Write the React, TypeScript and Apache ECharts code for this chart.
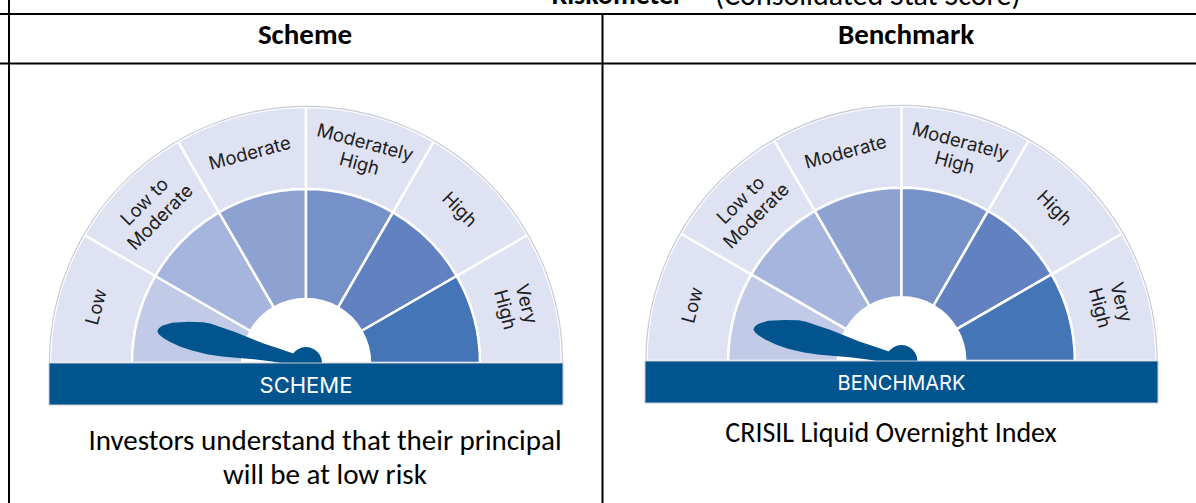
import React, { useEffect, useRef } from 'react';
import * as echarts from 'echarts';

// ---- data ----
const riskCategories = ['Low', 'Low to\nModerate', 'Moderate', 'Moderately\nHigh', 'High', 'Very\nHigh'];
const segmentWeights = [1, 1, 1, 1, 1, 1];
const innerColors = ['#c1cae6', '#a6b5dd', '#8ea2d2', '#7690c8', '#6181c0', '#4475b6'];
const outerColor = '#dfe2f2';
const riskValues = [0.4, 0.4]; // needle position on the 0..6 scale (scheme, benchmark)
const panelTitles = ['Scheme', 'Benchmark'];
const bandLabels = ['SCHEME', 'BENCHMARK'];
const captions = ['Investors understand that their principal\nwill be at low risk', 'CRISIL Liquid Overnight Index'];
const titleParts = ['Riskometer', '(Consolidated Stat Score)'];

const NAVY = '#02548f';
const TABLE_FONT = "Carlito, 'Liberation Sans Narrow', 'Open Sans', sans-serif";
const DIAL_FONT = "Inter, 'Noto Sans', sans-serif";

// needle outline: tip at top (y=0), pivot at bottom (y=100); x=100 is the upper side of the blade
const NEEDLE_PATH =
  'path://M0,100 L0.01,100 Z M100,100 L99.99,100 Z ' +
  'M50,0 L58,0.4 L67,2.3 L80.5,8.3 L92,19 L98.5,28 L99,33 L96,39 L91,50 L84,60 L77,70 L72.5,80 L68,90 L63,100 ' +
  'L39.5,100 L37,88 L35,78 L31,66 L26,56 L21,45 L18.5,35 L19.5,25 L23,17 L30.5,9 L37,4.5 L43,1.5 Z';

type Dial = { cx: number; cy: number; R: number; value: number };
const dials: Dial[] = [
  { cx: 306, cy: 363, R: 256, value: riskValues[0] },
  { cx: 901.5, cy: 361, R: 255, value: riskValues[1] },
];

function dialSeries(d: Dial) {
  const k = d.R / 256;
  const hidden = {
    value: segmentWeights.reduce((a, b) => a + b, 0),
    name: '',
    itemStyle: { color: 'transparent', borderWidth: 0 },
    label: { show: false },
  };
  const outer = {
    type: 'pie',
    silent: true,
    center: [d.cx, d.cy],
    radius: [174 * k, d.R],
    startAngle: 180,
    avoidLabelOverlap: false,
    labelLine: { show: false },
    itemStyle: { borderColor: '#ffffff', borderWidth: 2.5 },
    label: {
      show: true,
      position: 'inside',
      rotate: 'tangential',
      formatter: '{b}',
      fontFamily: DIAL_FONT,
      fontSize: 18.5,
      lineHeight: 22,
      color: '#1e1e1e',
    },
    data: [
      ...riskCategories.map((n, i) => ({ name: n, value: segmentWeights[i], itemStyle: { color: outerColor } })),
      hidden,
    ],
    z: 1,
  };
  const inner = {
    type: 'pie',
    silent: true,
    center: [d.cx, d.cy],
    radius: [64 * k, 174 * k],
    startAngle: 180,
    labelLine: { show: false },
    label: { show: false },
    itemStyle: { borderColor: '#ffffff', borderWidth: 2.5 },
    data: [
      ...riskCategories.map((n, i) => ({ name: n, value: segmentWeights[i], itemStyle: { color: innerColors[i] } })),
      hidden,
    ],
    z: 1,
  };
  const rim = {
    type: 'pie',
    silent: true,
    center: [d.cx, d.cy],
    radius: [d.R, d.R + 1.2],
    startAngle: 180,
    label: { show: false },
    labelLine: { show: false },
    data: [
      { name: 'rim', value: 1, itemStyle: { color: '#c9ccd6' } },
      { name: '', value: 1, itemStyle: { color: 'transparent' } },
    ],
    z: 1,
  };
  const gauge = {
    type: 'gauge',
    silent: true,
    center: [d.cx, d.cy],
    radius: 174 * k,
    startAngle: 180,
    endAngle: 0,
    min: 0,
    max: segmentWeights.length,
    splitNumber: segmentWeights.length,
    axisLine: { show: false },
    splitLine: { show: false },
    axisTick: { show: false },
    axisLabel: { show: false },
    pointer: {
      show: true,
      icon: NEEDLE_PATH,
      length: 152 * k,
      width: 38 * k,
      keepAspect: false,
      itemStyle: { color: NAVY },
    },
    anchor: { show: true, showAbove: true, size: 32 * k, itemStyle: { color: NAVY } },
    title: { show: false },
    detail: { show: false },
    data: [{ value: d.value }],
    z: 3,
  };
  return [outer, inner, rim, gauge];
}

export default function App() {
  const ref = useRef<HTMLDivElement>(null);
  useEffect(() => {
    if (!ref.current) return;
    const chart = echarts.init(ref.current, undefined, { renderer: 'svg' });
    const lineStyle = { stroke: '#000', lineWidth: 2 };
    const graphic: any[] = [
      // table rules
      { type: 'line', shape: { x1: 0, y1: 14, x2: 1196, y2: 14 }, style: lineStyle, z: 50 },
      { type: 'line', shape: { x1: 0, y1: 63.5, x2: 1196, y2: 63.5 }, style: lineStyle, z: 50 },
      { type: 'line', shape: { x1: 9, y1: 0, x2: 9, y2: 503 }, style: lineStyle, z: 50 },
      { type: 'line', shape: { x1: 602.5, y1: 14, x2: 602.5, y2: 503 }, style: lineStyle, z: 50 },
      // clipped title row text (only its lower part shows above the first rule)
      {
        type: 'text', x: 683, y: -6, z: 50,
        style: { text: titleParts[0], align: 'right', verticalAlign: 'middle', font: `bold 28px ${TABLE_FONT}`, fill: '#000' },
      },
      {
        type: 'text', x: 715, y: -6, z: 50,
        style: { text: titleParts[1], align: 'left', verticalAlign: 'middle', font: `30px ${TABLE_FONT}`, fill: '#000' },
      },
      // headers
      {
        type: 'text', x: 305, y: 34, z: 50,
        style: { text: panelTitles[0], align: 'center', verticalAlign: 'middle', font: `bold 29px ${TABLE_FONT}`, fill: '#000' },
      },
      {
        type: 'text', x: 906, y: 34, z: 50,
        style: { text: panelTitles[1], align: 'center', verticalAlign: 'middle', font: `bold 29px ${TABLE_FONT}`, fill: '#000' },
      },
      // bands
      {
        type: 'rect', z: 60, shape: { x: 49, y: 363, width: 514, height: 42 },
        style: { fill: NAVY, stroke: '#c9ccd6', lineWidth: 1 },
      },
      {
        type: 'text', x: 306, y: 385, z: 61,
        style: { text: bandLabels[0], align: 'center', verticalAlign: 'middle', font: `22px ${DIAL_FONT}`, fill: '#ffffff' },
      },
      {
        type: 'rect', z: 60, shape: { x: 645, y: 361, width: 513, height: 42 },
        style: { fill: NAVY, stroke: '#c9ccd6', lineWidth: 1 },
      },
      {
        type: 'text', x: 901.5, y: 382.5, z: 61,
        style: { text: bandLabels[1], align: 'center', verticalAlign: 'middle', font: `20px ${DIAL_FONT}`, fill: '#ffffff' },
      },
      // captions
      {
        type: 'text', x: 325, y: 457, z: 50,
        style: { text: captions[0], align: 'center', verticalAlign: 'middle', font: `29px ${TABLE_FONT}`, lineHeight: 34, fill: '#000' },
      },
      {
        type: 'text', x: 891, y: 432, z: 50,
        style: { text: captions[1], align: 'center', verticalAlign: 'middle', font: `28px ${TABLE_FONT}`, fill: '#000' },
      },
    ];
    chart.setOption({
      animation: false,
      backgroundColor: '#ffffff',
      series: dials.flatMap(dialSeries),
      graphic,
    });
    return () => chart.dispose();
  }, []);
  return <div ref={ref} style={{ position: 'fixed', left: 0, top: 0, width: 1196, height: 503 }} />;
}
